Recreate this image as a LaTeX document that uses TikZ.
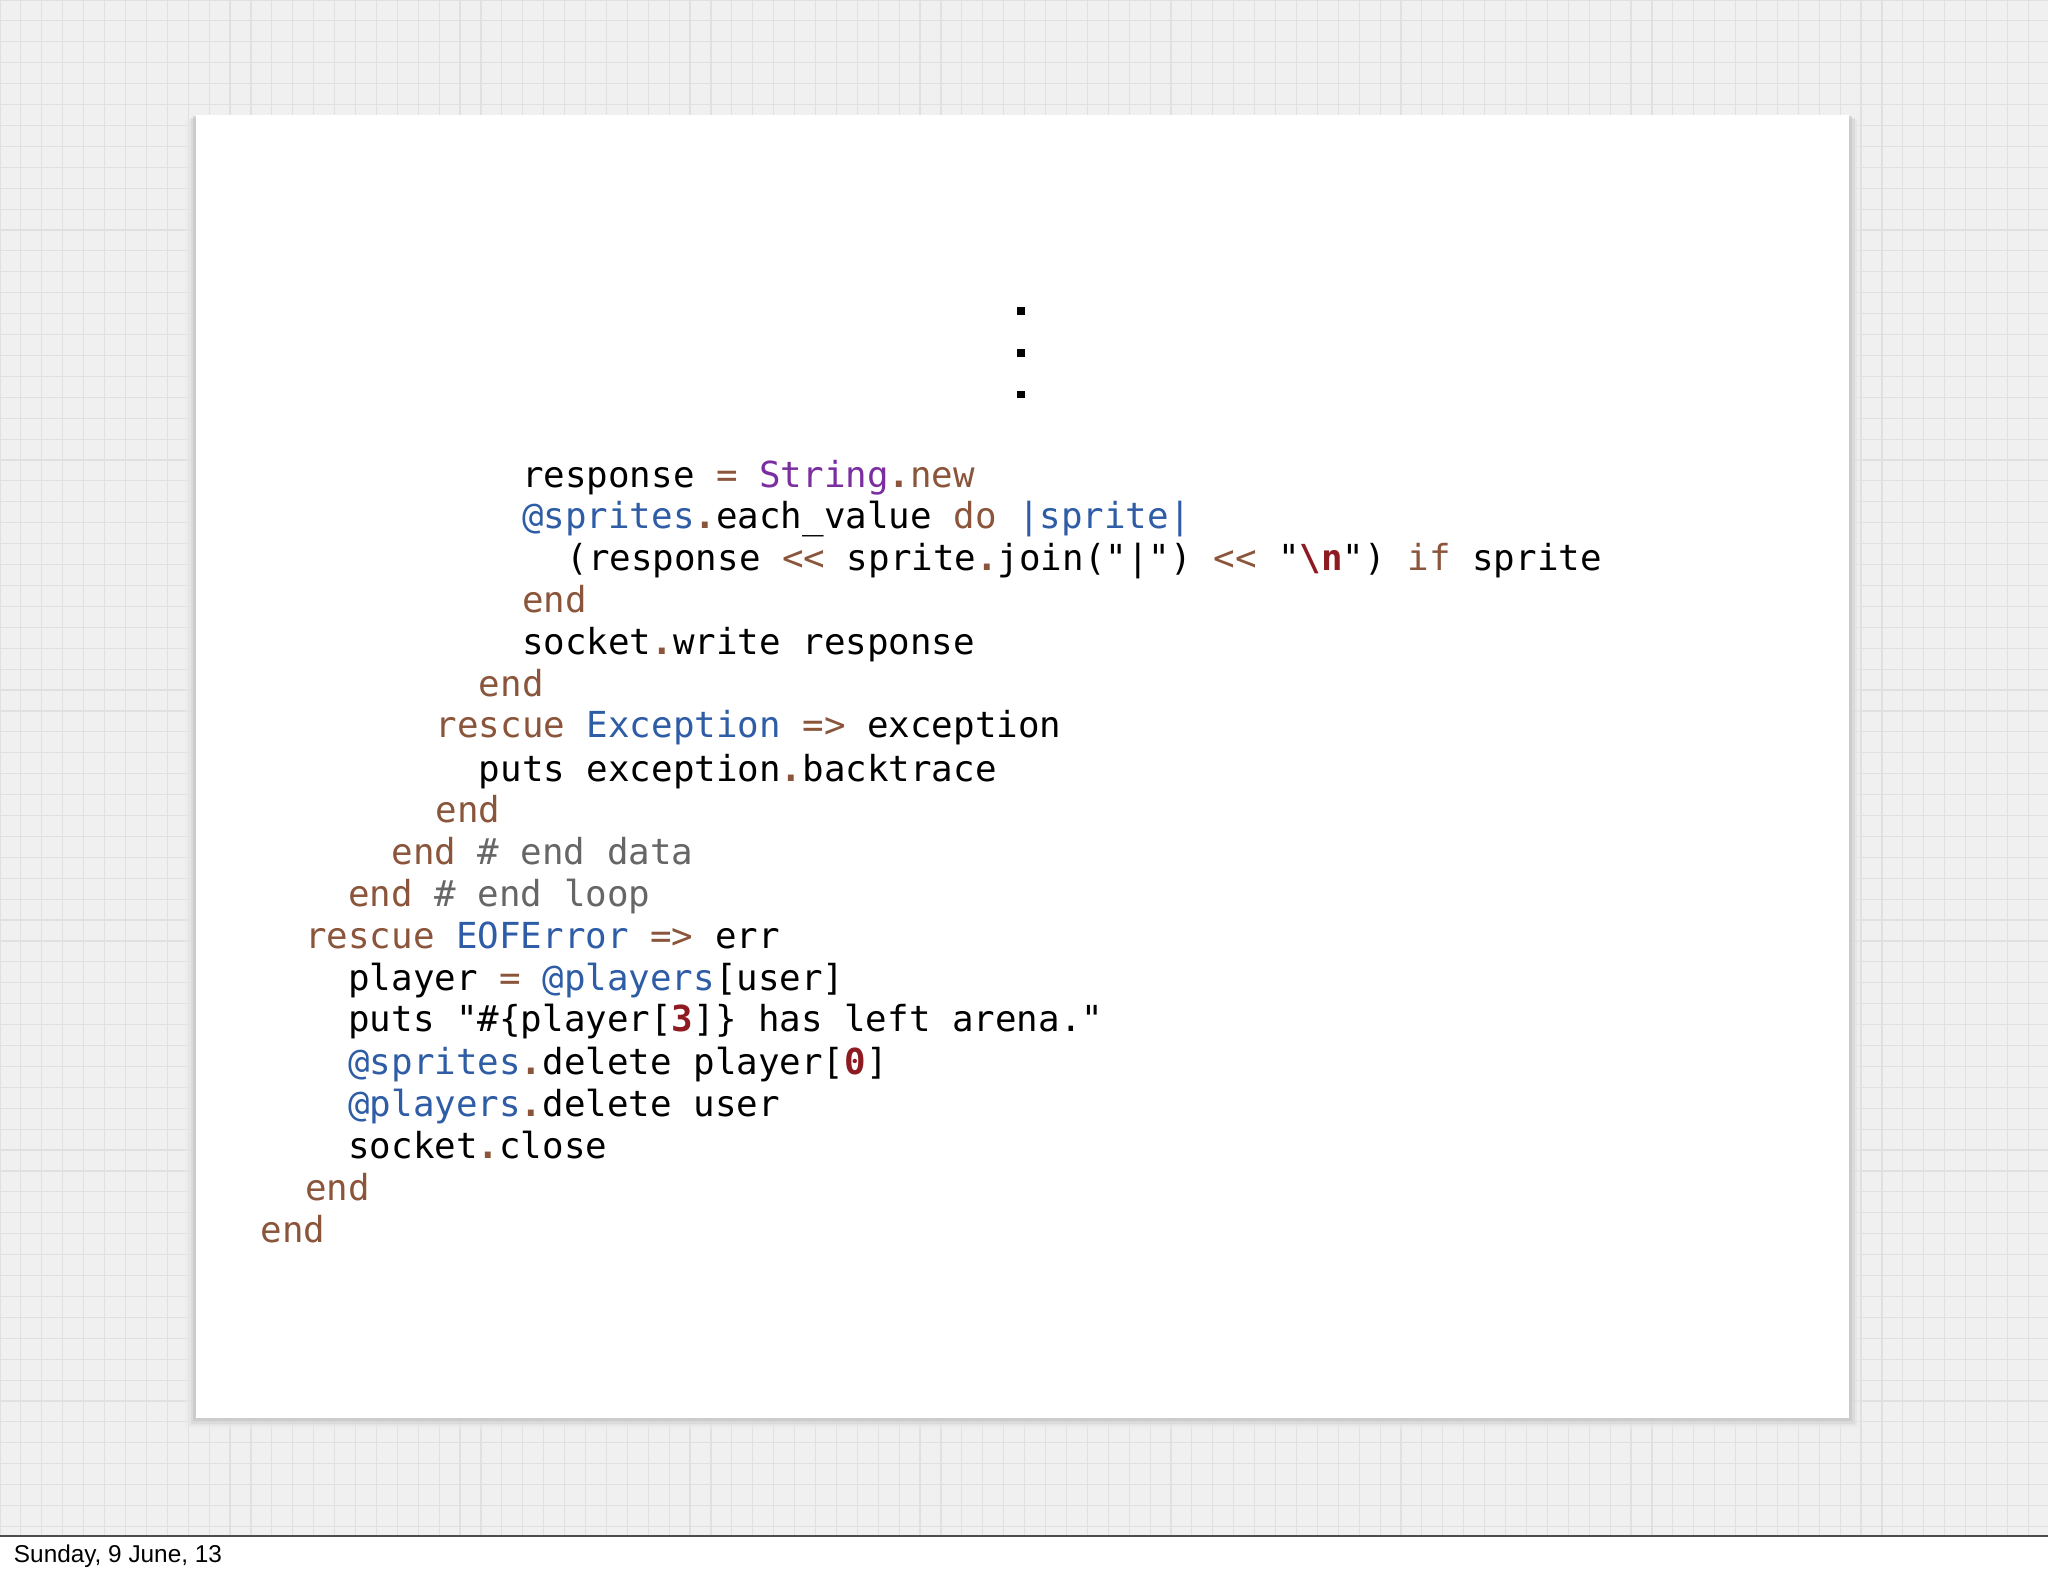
\documentclass[tikz,border=0pt]{standalone}
\usepackage{fontspec}
\setmainfont{Liberation Sans}
\setmonofont{DejaVu Sans Mono}
\definecolor{kwc}{HTML}{8A553A}
\definecolor{blc}{HTML}{2E5DA6}
\definecolor{puc}{HTML}{7A2EA0}
\definecolor{rdc}{HTML}{8E1B22}
\definecolor{gyc}{HTML}{666666}
\newcommand{\kw}[1]{\textcolor{kwc}{#1}}
\newcommand{\bl}[1]{\textcolor{blc}{#1}}
\newcommand{\pu}[1]{\textcolor{puc}{#1}}
\newcommand{\nm}[1]{\textcolor{rdc}{\bfseries #1}}
\newcommand{\cmt}[1]{\textcolor{gyc}{#1}}
\newcommand{\pd}{\textcolor{kwc}{\bfseries .}}
\begin{document}
\begin{tikzpicture}[x=0.01cm,y=-0.01cm,
  code/.style={anchor=base west,inner sep=0,font=\ttfamily\fontsize{7.8pt}{9pt}\selectfont}]
\useasboundingbox (0,0) rectangle (1568,1207);
\fill[white] (0,0) rectangle (1568,1207);
\fill[gray!12] (0,0) rectangle (1568,1176);
\draw[gray!24,line width=0.25pt,step=0.16cm] (0,0) grid (1568,1176);
\draw[black!70,line width=0.4pt] (0,1176) -- (1568,1176);
\foreach \o/\c in {8/8,6/12,4/18,2/25}{\fill[black!\c,opacity=0.5] (150-\o,88+\o/2) rectangle (1416+\o,1086+\o);}
\fill[white] (150,88) rectangle (1416,1086);
\foreach \yy in {238,270,302}{\fill[black] (779,\yy-3) rectangle (785,\yy+3);}
\node[code] (l1) at (399,373) {response \kw{=} \pu{String}\pd\kw{new}};
\node[code] (l2) at (399,405) {\bl{@sprites}\pd each\_value \kw{do} \bl{|sprite|}};
\node[code] (l3) at (433,437) {(response \kw{<<} sprite\pd join("|") \kw{<<} "\nm{\textbackslash n}") \kw{if} sprite};
\node[code] (l4) at (399,469) {\kw{end}};
\node[code] (l5) at (399,501) {socket\pd write response};
\node[code] (l6) at (366,533) {\kw{end}};
\node[code] (l7) at (333,565) {\kw{rescue} \bl{Exception} \kw{=>} exception};
\node[code] (l8) at (366,598) {puts exception\pd backtrace};
\node[code] (l9) at (333,630) {\kw{end}};
\node[code] (l10) at (299,662) {\kw{end} \cmt{\# end data}};
\node[code] (l11) at (266,694) {\kw{end} \cmt{\# end loop}};
\node[code] (l12) at (233,726) {\kw{rescue} \bl{EOFError} \kw{=>} err};
\node[code] (l13) at (266,758) {player \kw{=} \bl{@players}[user]};
\node[code] (l14) at (266,790) {puts "\#\{player[\nm{3}]\} has left arena."};
\node[code] (l15) at (266,823) {\bl{@sprites}\pd delete player[\nm{0}]};
\node[code] (l16) at (266,855) {\bl{@players}\pd delete user};
\node[code] (l17) at (266,887) {socket\pd close};
\node[code] (l18) at (233,919) {\kw{end}};
\node[code] (l19) at (199,951) {\kw{end}};
\node[anchor=base west,inner sep=0,font=\fontsize{5.3pt}{6pt}\selectfont] (foot) at (10,1196) {Sunday, 9 June, 13};
\end{tikzpicture}
\end{document}
